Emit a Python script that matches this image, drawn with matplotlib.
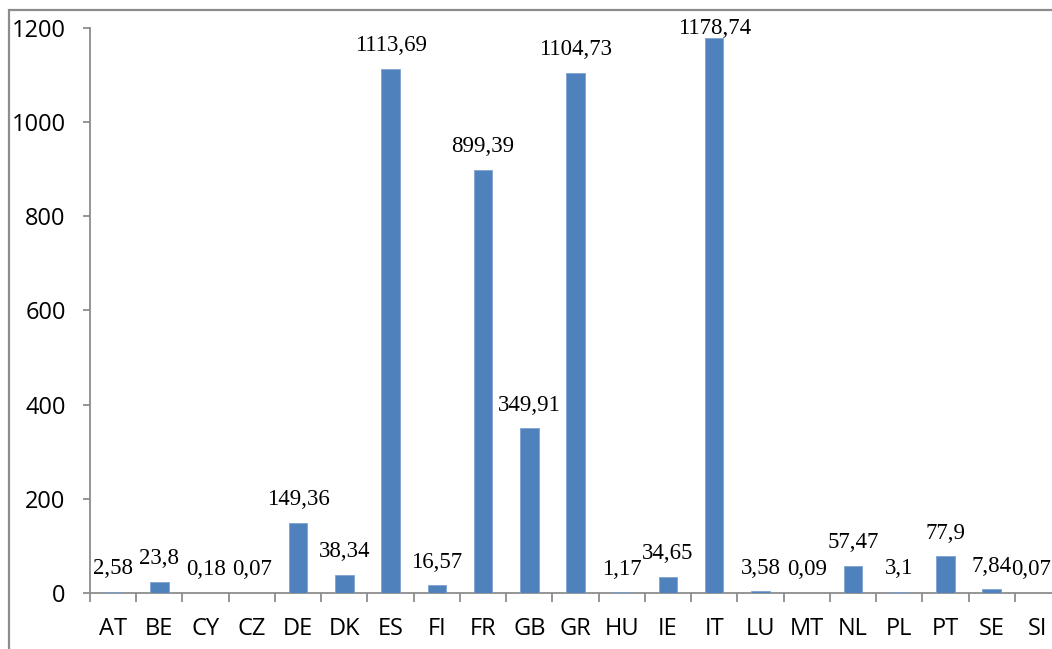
import matplotlib
matplotlib.use("Agg")
import matplotlib.pyplot as plt
from matplotlib.patches import Rectangle
import numpy as np

countries = ["AT", "BE", "CY", "CZ", "DE", "DK", "ES", "FI", "FR", "GB", "GR",
             "HU", "IE", "IT", "LU", "MT", "NL", "PL", "PT", "SE", "SI"]
values = [2.58, 23.8, 0.18, 0.07, 149.36, 38.34, 1113.69, 16.57, 899.39, 349.91, 1104.73,
          1.17, 34.65, 1178.74, 3.58, 0.09, 57.47, 3.1, 77.9, 7.84, 0.07]
value_labels = ["2,58", "23,8", "0,18", "0,07", "149,36", "38,34", "1113,69", "16,57",
                "899,39", "349,91", "1104,73", "1,17", "34,65", "1178,74", "3,58", "0,09",
                "57,47", "3,1", "77,9", "7,84", "0,07"]
yticks = [0, 200, 400, 600, 800, 1000, 1200]

W, H = 1052, 649
fig = plt.figure(figsize=(W / 100, H / 100), dpi=100)
fig.patch.set_facecolor("white")

# outer chart border (cropped at right / bottom)
fig.add_artist(Rectangle((9 / W, -0.05), 1.2, (H - 10) / H + 0.05, transform=fig.transFigure,
                         fill=False, edgecolor="#8c8c8c", linewidth=1.6))

left, right, y0, ytop = 90, 1061, 593, 28
ax = fig.add_axes([left / W, (H - y0) / H, (right - left) / W, (y0 - ytop) / H])

x = np.arange(len(countries))
ax.bar(x, values, width=0.4, color="#4F81BD", edgecolor="#7FA3D1", linewidth=0.6, zorder=3)

ax.set_xlim(-0.5, len(countries) - 0.5)
ax.set_ylim(0, 1200)
ax.set_yticks(yticks)
ax.set_yticklabels([str(v) for v in yticks])
ax.set_xticks(x)
ax.set_xticklabels(countries)
ax.set_xticks(np.arange(-0.5, len(countries)), minor=True)

gray = "#8c8c8c"
for s in ["top", "right"]:
    ax.spines[s].set_visible(False)
for s in ["left", "bottom"]:
    ax.spines[s].set_color(gray)
    ax.spines[s].set_linewidth(1.3)

ax.tick_params(axis="y", direction="out", length=5, width=1.3, color=gray, pad=12.5,
               labelsize=17, labelcolor="black")
ax.tick_params(axis="x", which="major", length=0, pad=17, labelsize=17, labelcolor="black")
ax.tick_params(axis="x", which="minor", direction="out", length=6.5, width=1.3, color=gray)
for lab in ax.get_xticklabels() + ax.get_yticklabels():
    lab.set_family("Open Sans")

# data labels: ~23 px above bar top, kept inside the chart area
px_per_unit = (y0 - ytop) / 1200.0
off = 23 / px_per_unit
cap = 1200 - 1 / px_per_unit
texts = []
for xi, v, t in zip(x, values, value_labels):
    texts.append(ax.text(xi, min(v + off, cap), t, ha="center", va="center",
                         family="Liberation Serif", fontsize=16.5, color="black",
                         clip_on=False))

# keep labels inside the picture on the right side
fig.canvas.draw()
renderer = fig.canvas.get_renderer()
for tx in texts:
    bb = tx.get_window_extent(renderer)
    if bb.x1 > W - 1:
        shift = bb.x1 - (W - 1)
        xd, yd = ax.transData.transform(tx.get_position())
        nx, ny = ax.transData.inverted().transform((xd - shift, yd))
        tx.set_position((nx, ny))

fig.savefig("out.png", dpi=100)
